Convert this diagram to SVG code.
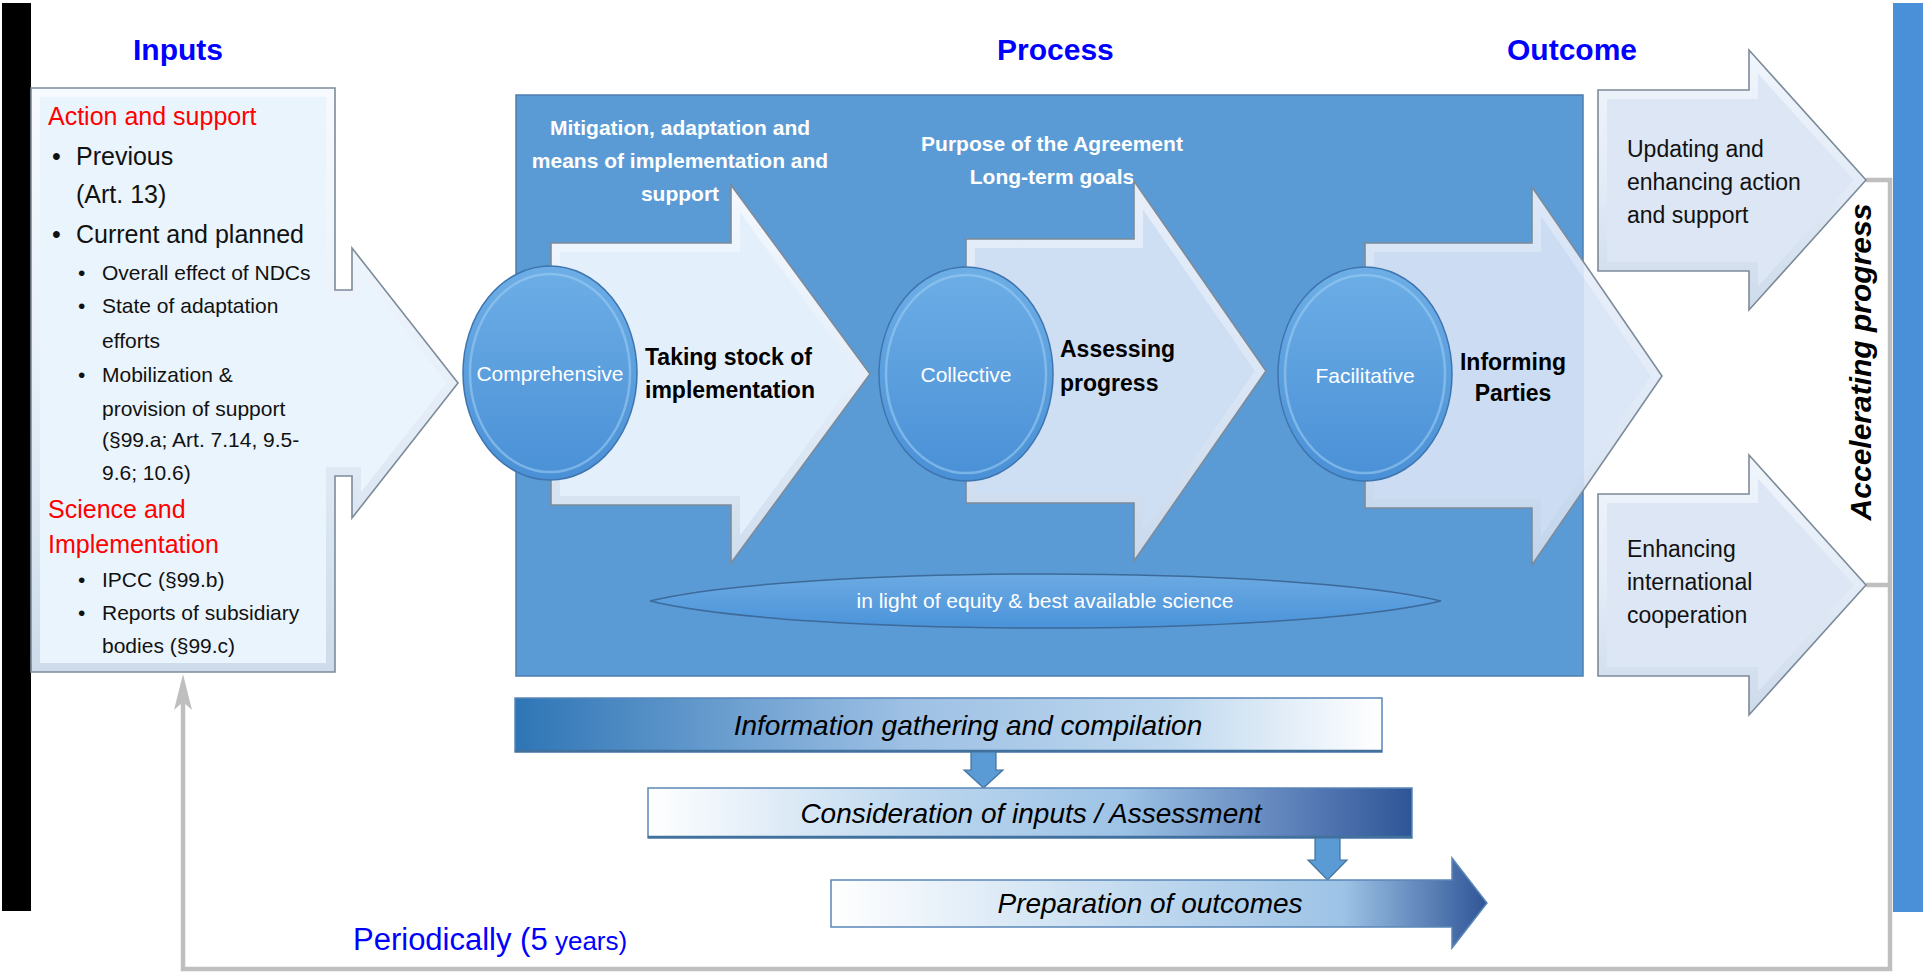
<svg xmlns="http://www.w3.org/2000/svg" width="1923" height="972" viewBox="0 0 1923 972">
<style>
text{font-family:"Liberation Sans",Arial,sans-serif}
.title{font-size:30px;font-weight:bold;fill:#0000FF}
.l1{font-size:25px;fill:#111}
.l2{font-size:21px;fill:#111}
.red{font-size:25px;fill:#FF0000}
.wb{font-size:21px;font-weight:bold;fill:#FFFFFF}
.circ{font-size:21px;fill:#FFFFFF}
.bl{font-size:23px;font-weight:bold;fill:#000}
.out{font-size:23px;fill:#111}
.flow{font-size:28px;font-style:italic;fill:#000}
.edge{fill:none;stroke:#7D8B99;stroke-width:1.6}
.band{fill:none;stroke:url(#bev);stroke-width:18}
.conn{fill:none;stroke:#BFBFBF;stroke-width:4.5}
.ring{fill:none;stroke:#9ACBF2;stroke-width:2.5;opacity:0.6}
.disc{fill:url(#cg);stroke:#3E75AE;stroke-width:1.5}
.down{fill:#5B9BD5;stroke:#41719C;stroke-width:1.2}
</style>
<defs>
<linearGradient id="bev" x1="0" y1="0" x2="0" y2="1">
<stop offset="0" stop-color="#FAFCFF"/>
<stop offset="0.5" stop-color="#E6EEF8"/>
<stop offset="1" stop-color="#C6D5E6"/>
</linearGradient>
<linearGradient id="cg" x1="0" y1="0" x2="0" y2="1">
<stop offset="0" stop-color="#6DAEE6"/>
<stop offset="1" stop-color="#4A90D6"/>
</linearGradient>
<linearGradient id="lens" x1="0" y1="0" x2="0" y2="1">
<stop offset="0" stop-color="#6CAAE2"/>
<stop offset="1" stop-color="#4A93DA"/>
</linearGradient>
<linearGradient id="gInfo" x1="0" y1="0" x2="1" y2="0">
<stop offset="0" stop-color="#2E75B6"/>
<stop offset="0.45" stop-color="#9DC0E4"/>
<stop offset="0.75" stop-color="#BDD7EE"/>
<stop offset="1" stop-color="#FFFFFF"/>
</linearGradient>
<linearGradient id="gCons" x1="0" y1="0" x2="1" y2="0">
<stop offset="0" stop-color="#FFFFFF"/>
<stop offset="0.35" stop-color="#BDD7EE"/>
<stop offset="0.62" stop-color="#9DC3E6"/>
<stop offset="0.85" stop-color="#5B7FB8"/>
<stop offset="1" stop-color="#2F5597"/>
</linearGradient>
<linearGradient id="gPrep" x1="0" y1="0" x2="1" y2="0">
<stop offset="0" stop-color="#FFFFFF"/>
<stop offset="0.5" stop-color="#BDD7EE"/>
<stop offset="0.78" stop-color="#9DC3E6"/>
<stop offset="1" stop-color="#2F5597"/>
</linearGradient>
<path id="pIn" d="M31,88 H335 V290 H352 V248 L458,383 L352,518 V476 H335 V672 H31 Z"/>
<path id="pA1" d="M551,243 H731 V185 L870,374 L731,563 V505 H551 Z"/>
<path id="pA2" d="M966,239 H1134 V181 L1266,371 L1134,561 V503 H966 Z"/>
<path id="pA3" d="M1365,243 H1532 V187 L1662,376 L1532,565 V508 H1365 Z"/>
<path id="pO1" d="M1598,90 H1749 V50 L1866,180 L1749,310 V271 H1598 Z"/>
<path id="pO2" d="M1598,494 H1749 V455 L1866,585 L1749,715 V676 H1598 Z"/>
<clipPath id="cIn"><use href="#pIn"/></clipPath>
<clipPath id="cA1"><use href="#pA1"/></clipPath>
<clipPath id="cA2"><use href="#pA2"/></clipPath>
<clipPath id="cA3"><use href="#pA3"/></clipPath>
<clipPath id="cO1"><use href="#pO1"/></clipPath>
<clipPath id="cO2"><use href="#pO2"/></clipPath>
</defs>

<rect width="1923" height="972" fill="#FFFFFF"/>
<rect id="leftbar" x="2" y="3" width="29" height="908" fill="#000000"/>
<rect id="rightbar" x="1893" y="3" width="30" height="909" fill="#4A90D9"/>

<g id="titles">
<text class="title" x="133" y="60">Inputs</text>
<text class="title" x="997" y="60">Process</text>
<text class="title" x="1507" y="60">Outcome</text>
</g>

<g id="connectors">
<path class="conn" d="M183,700 V969 H1890 V180 H1866"/>
<path class="conn" d="M1866,585 H1890"/>
<polygon points="183,674 174,710 183,702 192,710" fill="#BFBFBF"/>
</g>

<g id="inputs">
<use href="#pIn" fill="#EAF4FC"/>
<use href="#pIn" class="band" clip-path="url(#cIn)" opacity="0.8"/>
<use href="#pIn" class="edge" stroke="#8C8C8C" stroke-width="2.5"/>
<text class="red" x="48" y="125">Action and support</text>
<text class="l1" x="52" y="165">•</text><text class="l1" x="76" y="165">Previous</text>
<text class="l1" x="76" y="203">(Art. 13)</text>
<text class="l1" x="52" y="243">•</text><text class="l1" x="76" y="243">Current and planned</text>
<text class="l2" x="78" y="280">•</text><text class="l2" x="102" y="280">Overall effect of NDCs</text>
<text class="l2" x="78" y="313">•</text><text class="l2" x="102" y="313">State of adaptation</text>
<text class="l2" x="102" y="348">efforts</text>
<text class="l2" x="78" y="382">•</text><text class="l2" x="102" y="382">Mobilization &amp;</text>
<text class="l2" x="102" y="416">provision of support</text>
<text class="l2" x="102" y="447">(§99.a; Art. 7.14, 9.5-</text>
<text class="l2" x="102" y="480">9.6; 10.6)</text>
<text class="red" x="48" y="518">Science and</text>
<text class="red" x="48" y="553">Implementation</text>
<text class="l2" x="78" y="587">•</text><text class="l2" x="102" y="587">IPCC (§99.b)</text>
<text class="l2" x="78" y="620">•</text><text class="l2" x="102" y="620">Reports of subsidiary</text>
<text class="l2" x="102" y="653">bodies (§99.c)</text>
</g>

<g id="process">
<rect x="516" y="95" width="1067" height="581" fill="#5B9BD5" stroke="#4F7FB0" stroke-width="1.5"/>
<text class="wb" x="680" y="135" text-anchor="middle">Mitigation, adaptation and</text>
<text class="wb" x="680" y="168" text-anchor="middle">means of implementation and</text>
<text class="wb" x="680" y="201" text-anchor="middle">support</text>
<text class="wb" x="1052" y="151" text-anchor="middle">Purpose of the Agreement</text>
<text class="wb" x="1052" y="184" text-anchor="middle">Long-term goals</text>
</g>

<g id="equity">
<path d="M650,601 C800,565 1290,565 1441,601 C1290,637 800,637 650,601 Z" fill="url(#lens)" stroke="#3D6A9A" stroke-width="1.5"/>
<text class="circ" x="1045" y="608" text-anchor="middle">in light of equity &amp; best available science</text>
</g>

<g id="stocktake">
<use href="#pA1" fill="#E4EFFC"/>
<use href="#pA1" class="band" clip-path="url(#cA1)" opacity="0.7"/>
<use href="#pA1" class="edge"/>
<ellipse class="disc" cx="550" cy="373" rx="87" ry="107"/>
<ellipse class="ring" cx="550" cy="373" rx="80" ry="99"/>
<text class="circ" x="550" y="381" text-anchor="middle">Comprehensive</text>
<text class="bl" x="645" y="365">Taking stock of</text>
<text class="bl" x="645" y="398">implementation</text>
</g>

<g id="assessing">
<use href="#pA2" fill="#CEDEF3"/>
<use href="#pA2" class="band" clip-path="url(#cA2)" opacity="0.55"/>
<use href="#pA2" class="edge"/>
<ellipse class="disc" cx="966" cy="374" rx="87" ry="107"/>
<ellipse class="ring" cx="966" cy="374" rx="80" ry="99"/>
<text class="circ" x="966" y="382" text-anchor="middle">Collective</text>
<text class="bl" x="1060" y="357">Assessing</text>
<text class="bl" x="1060" y="391">progress</text>
</g>

<g id="informing">
<g opacity="0.9">
<use href="#pA3" fill="#D8E4F7"/>
<use href="#pA3" class="band" clip-path="url(#cA3)" opacity="0.55"/>
</g>
<use href="#pA3" class="edge"/>
<ellipse class="disc" cx="1365" cy="374" rx="87" ry="107"/>
<ellipse class="ring" cx="1365" cy="374" rx="80" ry="99"/>
<text class="circ" x="1365" y="383" text-anchor="middle">Facilitative</text>
<text class="bl" x="1513" y="370" text-anchor="middle">Informing</text>
<text class="bl" x="1513" y="401" text-anchor="middle">Parties</text>
</g>

<g id="outcome-updating">
<use href="#pO1" fill="#DCE6F4"/>
<use href="#pO1" class="band" clip-path="url(#cO1)" opacity="0.7"/>
<use href="#pO1" class="edge"/>
<text class="out" x="1627" y="157">Updating and</text>
<text class="out" x="1627" y="190">enhancing action</text>
<text class="out" x="1627" y="223">and support</text>
</g>

<g id="outcome-cooperation">
<use href="#pO2" fill="#DCE6F4"/>
<use href="#pO2" class="band" clip-path="url(#cO2)" opacity="0.7"/>
<use href="#pO2" class="edge"/>
<text class="out" x="1627" y="557">Enhancing</text>
<text class="out" x="1627" y="590">international</text>
<text class="out" x="1627" y="623">cooperation</text>
</g>

<g id="accelerating">
<text transform="translate(1871,362) rotate(-90)" text-anchor="middle" font-size="30" font-weight="bold" font-style="italic" fill="#000">Accelerating progress</text>
</g>

<g id="info">
<rect x="515" y="698" width="867" height="54" fill="url(#gInfo)" stroke="#5B87B8" stroke-width="1.5"/>
<line x1="515" y1="751" x2="1382" y2="751" stroke="#41719C" stroke-width="2.5"/>
<text class="flow" x="968" y="735" text-anchor="middle">Information gathering and compilation</text>
</g>
<path id="down1" class="down" d="M971,752 H996 V770 H1003 L983.5,788 L964,770 H971 Z"/>
<g id="consideration">
<rect x="648" y="788" width="764" height="50" fill="url(#gCons)" stroke="#5B87B8" stroke-width="1.5"/>
<line x1="648" y1="837" x2="1412" y2="837" stroke="#41719C" stroke-width="2.5"/>
<text class="flow" x="1031" y="823" text-anchor="middle">Consideration of inputs / Assessment</text>
</g>
<path id="down2" class="down" d="M1315,838 H1340 V860 H1347 L1327.5,880 L1308,860 H1315 Z"/>
<g id="preparation">
<path d="M831,880 H1452 V858 L1487,903 L1452,948 V927 H831 Z" fill="url(#gPrep)" stroke="#5B87B8" stroke-width="1.5"/>
<text class="flow" x="1150" y="913" text-anchor="middle">Preparation of outcomes</text>
</g>

<g id="periodically">
<text x="353" y="950" fill="#0000FF" font-size="31"><tspan>Periodically (5</tspan><tspan font-size="26"> years)</tspan></text>
</g>
</svg>
